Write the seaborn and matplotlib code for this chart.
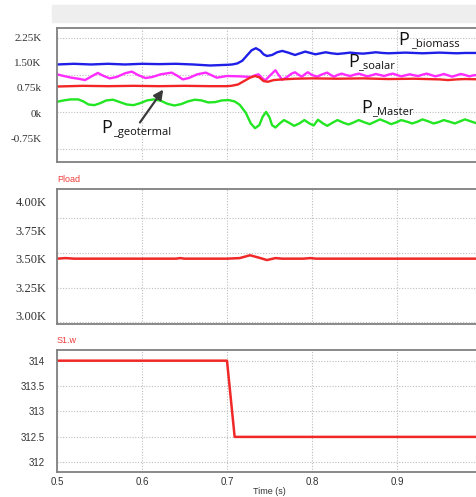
import matplotlib
matplotlib.use("Agg")
import matplotlib.pyplot as plt
import seaborn as sns
from matplotlib.patches import Rectangle
from matplotlib.ticker import FixedLocator

# ---------------- data (power in K units, time in s) ----------------
t_biomass = [0.50, 0.52, 0.54, 0.56, 0.58, 0.60, 0.62, 0.64, 0.66, 0.68, 0.70, 0.706,
             0.712, 0.718, 0.724, 0.729, 0.734, 0.739, 0.743, 0.747, 0.753, 0.759,
             0.765, 0.772, 0.78, 0.786, 0.792, 0.798, 0.804, 0.81, 0.816, 0.823,
             0.83, 0.838, 0.845, 0.853, 0.86, 0.868, 0.875, 0.883, 0.89, 0.90, 0.91,
             0.92, 0.93, 0.94, 0.95, 0.96, 0.97, 0.98, 1.00]
p_biomass = [1.44, 1.46, 1.44, 1.46, 1.44, 1.46, 1.45, 1.46, 1.44, 1.41, 1.43, 1.44,
             1.47, 1.55, 1.72, 1.86, 1.92, 1.85, 1.74, 1.69, 1.72, 1.80,
             1.84, 1.79, 1.72, 1.77, 1.82, 1.78, 1.74, 1.77, 1.80, 1.77,
             1.75, 1.77, 1.79, 1.77, 1.76, 1.78, 1.80, 1.78, 1.77, 1.78, 1.79,
             1.78, 1.77, 1.78, 1.79, 1.78, 1.77, 1.78, 1.78]

t_solar = [0.50, 0.508, 0.517, 0.525, 0.533, 0.54, 0.548, 0.555, 0.562, 0.57, 0.58,
           0.588, 0.596, 0.604, 0.612, 0.622, 0.635, 0.642, 0.648, 0.655, 0.665,
           0.675, 0.682, 0.688, 0.695, 0.70, 0.715, 0.728, 0.733, 0.737, 0.741,
           0.745, 0.750, 0.757, 0.761, 0.765, 0.770, 0.776, 0.78, 0.784, 0.788,
           0.792, 0.795, 0.80, 0.806, 0.812, 0.818, 0.822, 0.826, 0.830, 0.835,
           0.840, 0.845, 0.850, 0.855, 0.860, 0.865, 0.870, 0.875, 0.880, 0.885,
           0.890, 0.895, 0.900, 0.905, 0.910, 0.915, 0.920, 0.925, 0.930, 0.935,
           0.940, 0.945, 0.950, 0.955, 0.960, 0.965, 0.970, 0.975, 0.980, 0.985,
           0.990, 1.00]
p_solar = [1.15, 1.10, 1.05, 1.02, 0.98, 1.08, 1.19, 1.10, 1.03, 1.07, 1.18,
           1.23, 1.12, 1.04, 1.07, 1.15, 1.20, 1.10, 1.00, 1.04, 1.15,
           1.20, 1.12, 1.05, 1.08, 1.10, 1.09, 1.07, 1.12, 1.15, 1.05,
           0.97, 1.10, 1.27, 1.12, 0.99, 1.06, 1.17, 1.21, 1.14, 1.08,
           1.16, 1.21, 1.13, 1.08, 1.15, 1.20, 1.13, 1.08, 1.13, 1.17,
           1.13, 1.10, 1.14, 1.17, 1.13, 1.09, 1.12, 1.16, 1.13, 1.10,
           1.14, 1.17, 1.13, 1.09, 1.12, 1.15, 1.12, 1.10, 1.14, 1.17,
           1.13, 1.09, 1.12, 1.16, 1.12, 1.08, 1.12, 1.16, 1.13, 1.09,
           1.12, 1.14]

t_geo = [0.50, 0.53, 0.56, 0.59, 0.62, 0.65, 0.68, 0.70, 0.705, 0.713, 0.72, 0.727,
         0.733, 0.738, 0.743, 0.748, 0.755, 0.765, 0.78, 0.80, 0.83, 0.86, 0.89,
         0.92, 0.95, 0.96, 0.97, 0.98, 1.00]
p_geo = [0.79, 0.81, 0.80, 0.81, 0.80, 0.81, 0.80, 0.80, 0.81, 0.85, 0.95, 1.05,
         1.10, 1.06, 0.95, 0.93, 0.98, 1.00, 1.02, 1.03, 1.02, 1.03, 1.01,
         1.02, 1.00, 0.98, 1.00, 1.01, 1.00]

t_master = [0.50, 0.508, 0.516, 0.525, 0.531, 0.537, 0.544, 0.551, 0.558, 0.566,
            0.574, 0.582, 0.590, 0.598, 0.606, 0.614, 0.622, 0.630, 0.638, 0.646,
            0.654, 0.662, 0.670, 0.678, 0.686, 0.694, 0.702, 0.709, 0.715, 0.722,
            0.728, 0.733, 0.738, 0.742, 0.746, 0.750, 0.753, 0.757, 0.762, 0.767,
            0.773, 0.779, 0.785, 0.791, 0.797, 0.802, 0.807, 0.813, 0.818, 0.824,
            0.830, 0.837, 0.843, 0.849, 0.855, 0.862, 0.868, 0.874, 0.880, 0.887,
            0.893, 0.899, 0.905, 0.912, 0.918, 0.924, 0.930, 0.937, 0.943, 0.949,
            0.955, 0.962, 0.968, 0.974, 0.980, 0.987, 0.993, 1.00]
p_master = [0.34, 0.38, 0.41, 0.41, 0.35, 0.26, 0.24, 0.30, 0.38, 0.40,
            0.33, 0.26, 0.24, 0.30, 0.38, 0.41, 0.37, 0.28, 0.23, 0.27,
            0.35, 0.40, 0.38, 0.32, 0.33, 0.38, 0.39, 0.35, 0.25, 0.02,
            -0.30, -0.44, -0.35, -0.10, 0.04, -0.12, -0.35, -0.42, -0.30, -0.20,
            -0.28, -0.37, -0.30, -0.20, -0.30, -0.36, -0.19, -0.30, -0.37, -0.28,
            -0.20, -0.28, -0.33, -0.27, -0.20, -0.27, -0.32, -0.25, -0.18, -0.25,
            -0.32, -0.27, -0.20, -0.25, -0.30, -0.25, -0.18, -0.24, -0.30, -0.26,
            -0.20, -0.25, -0.30, -0.24, -0.18, -0.24, -0.29, -0.27]

t_load = [0.50, 0.51, 0.52, 0.64, 0.645, 0.65, 0.70, 0.715, 0.727, 0.737, 0.747,
          0.757, 0.765, 0.775, 0.79, 0.798, 0.805, 1.00]
p_load = [3.50, 3.505, 3.50, 3.50, 3.505, 3.50, 3.50, 3.505, 3.53, 3.51, 3.488,
          3.505, 3.50, 3.50, 3.50, 3.505, 3.50, 3.50]

t_speed = [0.50, 0.70, 0.709, 1.00]
w_speed = [314.0, 314.0, 312.5, 312.5]

x_ticks = [0.5, 0.6, 0.7, 0.8, 0.9, 1.0]
x_tick_labels = ["0.5", "0.6", "0.7", "0.8", "0.9", ""]

p_ticks = [2.25, 1.50, 0.75, 0.0, -0.75]
p_tick_labels = ["2.25K", "1.50K", "0.75k", "0k", "-0.75K"]
load_ticks = [4.00, 3.75, 3.50, 3.25, 3.00]
load_tick_labels = ["4.00K", "3.75K", "3.50K", "3.25K", "3.00K"]
w_ticks = [314, 313.5, 313, 312.5, 312]
w_tick_labels = ["314", "313.5", "313", "312.5", "312"]

# ---------------- figure ----------------
sns.set_style("white")
W_PX, H_PX = 477, 497
fig = plt.figure(figsize=(W_PX / 100, H_PX / 100), dpi=100)
fig.patches.append(Rectangle((52 / W_PX, 1 - 22 / H_PX), 1, 17 / H_PX,
                             transform=fig.transFigure, color="#eeeeee", zorder=0))


def panel(top, bottom):
    left, right = 57, 482
    return fig.add_axes([left / W_PX, 1 - bottom / H_PX,
                         (right - left) / W_PX, (bottom - top) / H_PX])


ax1 = panel(27.7, 162)
ax2 = panel(189, 324)
ax3 = panel(350, 471.7)

grid_kw = dict(color="#bdbdbd", linestyle=(0, (1, 1.5)), linewidth=0.8)

for ax in (ax1, ax2, ax3):
    ax.set_xlim(0.5, 1.0)
    ax.set_xticks(x_ticks)
    for s in ax.spines.values():
        s.set_color("#808080")
        s.set_linewidth(1.3)
    ax.tick_params(which="both", length=0)
    ax.grid(axis="x", which="major", **grid_kw)
    ax.set_axisbelow(True)

# top panel: source powers
series = [
    (t_biomass, p_biomass, "#1f1fe8"),
    (t_solar, p_solar, "#ff2bff"),
    (t_geo, p_geo, "#f22626"),
    (t_master, p_master, "#22e622"),
]
for t, p, c in series:
    sns.lineplot(x=t, y=p, ax=ax1, color=c, linewidth=1.7, estimator=None)
for ln in ax1.get_lines():
    ln.set_solid_joinstyle("round")
ax1.set_ylim(-1.437, 2.525)
ax1.set_yticks(p_ticks)
ax1.set_yticklabels(p_tick_labels, fontfamily="Liberation Serif", fontsize=8, color="#333333")
ax1.tick_params(axis="y", pad=11)
ax1.yaxis.set_minor_locator(FixedLocator([2.212, 1.13, 0.047, -1.053]))
ax1.grid(axis="y", which="minor", **grid_kw)
ax1.set_xticklabels([])


def curve_label(ax, tp, vp, ts, vs, sub):
    ax.text(tp, vp, "P", fontfamily="Open Sans", fontsize=13, color="#111111",
            va="baseline", ha="left")
    ax.text(ts, vs, sub, fontfamily="Open Sans", fontsize=8, color="#111111",
            va="baseline", ha="left")


curve_label(ax1, 0.9012, 2.015, 0.9170, 1.985, "_biomass")
curve_label(ax1, 0.8424, 1.375, 0.8545, 1.336, "_soalar")
curve_label(ax1, 0.8585, 0.018, 0.8705, -0.021, "_Master")
curve_label(ax1, 0.5526, -0.596, 0.5660, -0.63, "_geotermal")
ax1.annotate("", xy=(0.625, 0.70), xytext=(0.5976, -0.27),
             arrowprops=dict(arrowstyle="-|>", color="#3a3a3a", lw=1.6,
                             mutation_scale=14, shrinkA=0, shrinkB=0))

# middle panel: load power
sns.lineplot(x=t_load, y=p_load, ax=ax2, color="#f02828", linewidth=1.8, estimator=None)
ax2.set_ylim(2.927, 4.111)
ax2.set_yticks(load_ticks)
ax2.set_yticklabels(load_tick_labels, fontfamily="Liberation Serif", fontsize=9, color="#333333")
ax2.tick_params(axis="y", pad=7.5)
ax2.yaxis.set_minor_locator(FixedLocator([3.854, 3.547, 3.240, 2.942]))
ax2.grid(axis="y", which="minor", **grid_kw)
ax2.set_xticklabels([])
ax2.set_title("Pload", loc="left", color="#f03c3c", fontsize=6.5, pad=5,
              fontfamily="Liberation Sans")

# bottom panel: rotor speed
sns.lineplot(x=t_speed, y=w_speed, ax=ax3, color="#f02828", linewidth=1.8, estimator=None)
ax3.set_ylim(311.815, 314.21)
ax3.set_yticks(w_ticks)
ax3.set_yticklabels(w_tick_labels, fontfamily="Liberation Sans", fontsize=7, color="#333333")
ax3.tick_params(axis="y", pad=8.5)
ax3.grid(axis="y", which="major", **grid_kw)
ax3.set_xticklabels(x_tick_labels, fontfamily="Liberation Sans", fontsize=7, color="#333333")
ax3.tick_params(axis="x", pad=4)
ax3.set_xlabel("Time (s)", fontfamily="Liberation Sans", fontsize=6.5, color="#333333",
               labelpad=0)
ax3.set_title("S1.w", loc="left", color="#f03c3c", fontsize=6.5, pad=5,
              fontfamily="Liberation Sans")

fig.savefig("out.png", dpi=100)
